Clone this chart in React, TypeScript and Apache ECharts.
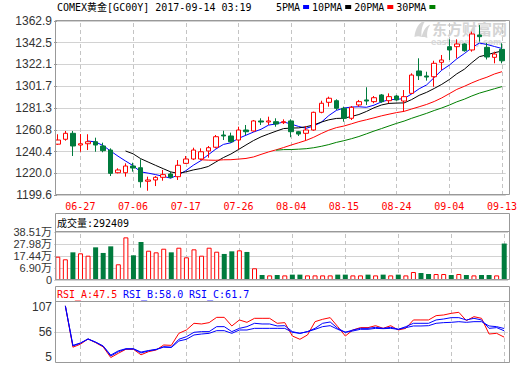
import React, { useEffect, useRef } from 'react';
import * as echarts from 'echarts';

const DATES = ['06-22','06-23','06-26','06-27','06-28','06-29','06-30','07-03','07-04','07-05','07-06','07-07','07-10','07-11','07-12','07-13','07-14','07-17','07-18','07-19','07-20','07-21','07-24','07-25','07-26','07-27','07-28','07-31','08-01','08-02','08-03','08-04','08-07','08-08','08-09','08-10','08-11','08-14','08-15','08-16','08-17','08-18','08-21','08-22','08-23','08-24','08-25','08-28','08-29','08-30','08-31','09-01','09-04','09-05','09-06','09-07','09-08','09-11','09-12','09-13'];
const LABEL_DATES = ['06-27','07-06','07-17','07-26','08-04','08-15','08-24','09-04','09-13'];

const OPEN = [1247.3,1251.9,1257.5,1246.5,1247.7,1249.6,1245.6,1241.8,1220.5,1220.5,1226.8,1225.2,1212.5,1213.7,1216.2,1219.3,1216.8,1229.3,1233.4,1233.4,1240.9,1244.4,1255.9,1255.0,1251.2,1260.6,1259.7,1269.1,1268.1,1268.4,1267.5,1269.1,1259.0,1257.5,1260.6,1277.2,1286.6,1288.1,1281.0,1271.6,1284.1,1288.8,1287.2,1293.5,1288.1,1292.5,1287.8,1295.0,1316.0,1311.3,1310.6,1324.1,1338.8,1338.8,1341.3,1335.7,1349.8,1338.2,1328.8,1336.3];
const CLOSE = [1251.2,1257.5,1245.6,1247.7,1249.6,1246.5,1241.2,1219.9,1223.1,1226.8,1224.9,1212.1,1213.7,1216.2,1218.7,1216.2,1227.5,1233.4,1241.8,1240.2,1244.0,1254.3,1255.0,1249.6,1260.6,1259.0,1269.1,1268.1,1269.1,1266.2,1268.4,1259.0,1256.8,1260.6,1277.2,1285.7,1290.4,1281.0,1271.6,1281.9,1287.2,1287.8,1290.9,1287.2,1291.9,1288.8,1291.9,1312.2,1311.6,1310.3,1323.2,1326.3,1335.7,1341.3,1335.0,1350.7,1348.2,1329.1,1331.9,1325.6];
const LOW = [1246.6,1250.6,1236.2,1240.2,1241.8,1240.2,1239.7,1217.4,1219.9,1216.8,1221.5,1206.5,1203.6,1208.0,1213.0,1215.3,1213.7,1228.7,1232.4,1232.4,1234.6,1243.4,1251.2,1248.7,1242.5,1255.9,1259.0,1265.3,1265.3,1263.7,1266.2,1253.8,1255.0,1251.2,1259.9,1276.3,1282.5,1279.4,1268.4,1270.0,1282.5,1284.1,1285.7,1286.2,1285.7,1288.1,1277.8,1294.4,1307.5,1306.9,1301.2,1316.9,1326.3,1327.9,1334.1,1334.1,1343.5,1326.8,1323.2,1323.2];
const HIGH = [1256.6,1259.7,1259.7,1256.8,1256.6,1253.4,1248.7,1243.4,1224.7,1229.3,1229.9,1233.1,1216.8,1217.4,1223.1,1221.5,1232.4,1236.2,1244.0,1243.4,1245.6,1255.9,1259.9,1258.1,1263.7,1265.3,1270.0,1271.6,1273.1,1271.6,1270.6,1270.6,1259.7,1264.4,1277.8,1288.1,1291.9,1289.4,1282.5,1283.1,1288.8,1300.7,1292.5,1294.4,1295.0,1293.5,1298.1,1313.8,1327.9,1315.3,1325.6,1331.0,1345.7,1345.7,1342.0,1352.9,1359.1,1342.3,1334.1,1342.0];

const VOLUME = [187000,166000,222000,214000,195000,262000,217000,270000,126000,342000,198000,305000,235000,222000,251000,222000,259000,182000,246000,195000,259000,227000,209000,230000,238000,225000,94000,40000,37000,40000,37000,43000,43000,37000,37000,37000,37000,43000,43000,37000,37000,43000,37000,43000,37000,43000,37000,64000,56000,48000,48000,48000,40000,48000,40000,37000,40000,40000,37000,292409];

const RSI_A = [null,99,31,36,44.5,38.5,31.5,14,21,27.5,27.5,18.5,23.7,26.4,34.6,34,53.8,59.3,70.3,69.2,71.4,80.1,80.1,65.9,75.8,71.9,78.5,78.5,78.5,70.3,71.4,49.4,44,51.1,73,76.9,79.6,64.8,49.4,59.3,63.2,63.2,66.4,62,66.4,59.3,62,75.8,75.8,75.8,82.9,84,86.7,88.4,74.7,81.2,78.5,52.7,53.8,47.5];
const RSI_B = [null,99,33,37.5,44.5,39,32.5,16.5,23.5,28,28,21.5,25,27,31.9,31,44,48.3,55.5,56.6,56.6,64.8,64.8,56.6,62,64.8,70.3,69.2,69.2,65.9,66.4,56.6,53.8,56.6,62,70.3,72.5,62,55.5,59.3,62,62,63.7,62,63.7,60.4,64.8,70.3,70.3,70.3,75.8,77.4,79.6,79.6,75.8,78.5,75.8,62,63.2,58];
const RSI_C = [null,99,34,38,44.5,39.5,33,18,25,28.5,28.5,23,25.5,27.5,31,30.5,41.2,44,51.1,52.7,53.8,58.2,58.2,53.8,59.3,59.3,62,62,62,62,62,55.5,53.8,56.6,60.4,64.8,66.4,60.4,55.5,57.7,60.4,60.4,62,61.5,62,60.4,63.2,65.9,65.9,66.4,70.3,71.4,71.9,73,71.9,73,73,65.9,64.8,61.7];

const MAIN_TICKS = [1199.6, 1220.0, 1240.4, 1260.8, 1281.3, 1301.7, 1322.1, 1342.5, 1362.9];
const VOL_TICK_LABELS = ['0', '6.90万', '17.44万', '27.98万', '38.51万'];
const VOL_TICK_POS = VOL_TICK_LABELS.map((_, i) => i);
const RSI_TICKS = [5, 56, 107];
const RSI_GRID_TICKS = [56];
const MA_PERIODS = [5, 10, 20, 30];
const MA_COLORS = ['#0000ff', '#000000', '#ff0000', '#008000'];
const HEADER_TITLE = 'COMEX黄金[GC00Y] 2017-09-14 03:19';
const VOL_TITLE = '成交量:292409';
const RSI_TITLES = ['RSI_A:47.5', 'RSI_B:58.0', 'RSI_C:61.7'];
const RSI_TITLE_COLORS = ['#ff0000', '#0000ff', '#0000ff'];

const RED = '#ff0000';
const GREEN = '#007b3d';
const MONO = "'DejaVu Sans Mono', 'Noto Sans CJK SC', monospace";
const SANS = "'Liberation Sans', 'Noto Sans CJK SC', sans-serif";

const LOGO_PATH = 'M2,20 C3,10 9,3 18,1 C13,6 11,12 12,20 C9,19 5,19 2,20 Z M12,20 C14,13 18,8 24,6 C20,11 19,15 20,21 C17,20 15,20 12,20 Z';

const GRID_LEFT = 54;
const GRID_WIDTH = 454;

function movingAverage(n: number) {
  return CLOSE.map((_, i) => {
    if (i < n - 1) return null;
    let s = 0;
    for (let k = i - n + 1; k <= i; k++) s += CLOSE[k];
    return +(s / n).toFixed(2);
  });
}

let logoRegistered = false;

export default function App() {
  const ref = useRef<HTMLDivElement>(null);
  useEffect(() => {
    document.body.style.margin = '0';
    if (!logoRegistered) {
      echarts.graphic.registerShape('emlogo', echarts.graphic.extendPath(LOGO_PATH, {}) as any);
      logoRegistered = true;
    }
    const chart = echarts.init(ref.current!, undefined, { renderer: 'svg' });
    const showDate = (_: number, v: string) => LABEL_DATES.indexOf(v) >= 0;
    const tickLen = [174, 48, 62];

    const xAxis = [0, 1, 2].map((g) => ({
      type: 'category',
      gridIndex: g,
      data: DATES,
      boundaryGap: true,
      axisLine: { show: false },
      axisTick: {
        show: true,
        interval: showDate,
        alignWithLabel: true,
        inside: true,
        length: tickLen[g],
        lineStyle: { color: '#c4c4c4', type: [4, 3], width: 1 },
      },
      axisLabel: {
        show: g === 0,
        interval: showDate,
        color: RED,
        fontFamily: MONO,
        fontSize: 10,
        margin: 6,
      },
      splitLine: { show: false },
    }));

    const yAxis = [
      {
        type: 'value', gridIndex: 0, position: 'left', min: 1199.6, max: 1362.9,
        axisLine: { show: false },
        axisTick: { show: true, inside: true, length: 3, customValues: MAIN_TICKS, lineStyle: { color: '#999' } },
        axisLabel: { customValues: MAIN_TICKS, formatter: (v: number) => v.toFixed(1), color: '#333', fontSize: 12, fontFamily: SANS, margin: 2 },
        splitLine: { show: true, lineStyle: { color: '#d2d2d2' } },
      },
      {
        type: 'value', gridIndex: 1, position: 'left', min: 0, max: 385100,
        axisLine: { show: false }, axisTick: { show: false },
        axisLabel: { show: false }, splitLine: { show: false },
      },
      {
        type: 'value', gridIndex: 2, position: 'left', min: 5, max: 107,
        axisLine: { show: false },
        axisTick: { show: false, customValues: RSI_GRID_TICKS },
        axisLabel: { customValues: RSI_TICKS, color: '#333', fontSize: 12, fontFamily: SANS, margin: 2, verticalAlignMinLabel: 'bottom', verticalAlignMaxLabel: 'top' },
        splitLine: { show: true, lineStyle: { color: '#d2d2d2' } },
      },
      {
        // tick-label axis of the volume panel (labels evenly spaced as in the reference)
        type: 'value', gridIndex: 1, position: 'left',
        min: -0.01, max: VOL_TICK_LABELS.length - 1,
        axisLine: { show: false },
        axisTick: { show: false, customValues: VOL_TICK_POS },
        axisLabel: {
          customValues: VOL_TICK_POS, showMinLabel: true, showMaxLabel: true, hideOverlap: false,
          formatter: (v: number) => (Math.round(v) === 0 ? '' : VOL_TICK_LABELS[Math.round(v)] || ''),
          color: '#333', fontSize: 11, fontFamily: SANS, margin: 2,
        },
        splitLine: { show: true, lineStyle: { color: '#d2d2d2' } },
      },
    ];

    const maSeries = MA_PERIODS.map((p, k) => ({
      type: 'line', name: p + 'PMA', xAxisIndex: 0, yAxisIndex: 0,
      data: movingAverage(p), showSymbol: false, symbol: 'none',
      lineStyle: { color: MA_COLORS[k], width: 1 }, z: 3,
    }));

    const rsiSeries = [RSI_A, RSI_B, RSI_C].map((d, k) => ({
      type: 'line', xAxisIndex: 2, yAxisIndex: 2, data: d, showSymbol: false, symbol: 'none',
      lineStyle: { color: RSI_TITLE_COLORS[k], width: 1 },
    }));

    const volData = VOLUME.map((v, i) => ({
      value: v,
      itemStyle: CLOSE[i] >= OPEN[i]
        ? { color: '#ffffff', borderColor: RED, borderWidth: 1 }
        : { color: GREEN, borderColor: GREEN, borderWidth: 0 },
    }));

    const legendItems: any[] = [];
    let lx = 276;
    MA_PERIODS.forEach((p, k) => {
      const txt = p + 'PMA';
      const w = txt.length * 6.02;
      legendItems.push({ type: 'text', x: lx, y: 7, style: { text: txt, fill: '#000', font: '10px ' + MONO, verticalAlign: 'middle', align: 'left' } });
      legendItems.push({ type: 'rect', shape: { x: lx + w + 3, y: 5, width: 6, height: 4 }, style: { fill: MA_COLORS[k] } });
      lx += w + 12;
    });

    const rsiTitleItems = RSI_TITLES.map((t, k) => ({
      type: 'text', x: 57 + k * 66, y: 294.5,
      style: { text: t, fill: RSI_TITLE_COLORS[k], font: '10px ' + MONO, verticalAlign: 'middle', align: 'left' },
    }));

    const frameStyle = { fill: 'none', stroke: '#999', lineWidth: 1 };

    chart.setOption({
      animation: false,
      grid: [
        { left: GRID_LEFT, top: 21, width: GRID_WIDTH, height: 174 },
        { left: GRID_LEFT, top: 232, width: GRID_WIDTH, height: 48 },
        { left: GRID_LEFT, top: 301, width: GRID_WIDTH, height: 62 },
      ],
      xAxis,
      yAxis,
      series: [
        {
          type: 'candlestick', xAxisIndex: 0, yAxisIndex: 0,
          data: OPEN.map((o, i) => [o, CLOSE[i], LOW[i], HIGH[i]]),
          barWidth: 5,
          itemStyle: { color: '#ffffff', color0: GREEN, borderColor: RED, borderColor0: GREEN, borderWidth: 1 },
          z: 4,
        },
        ...maSeries,
        {
          type: 'bar', xAxisIndex: 1, yAxisIndex: 1, data: volData, barWidth: 5,
          markLine: {
            silent: true,
            symbol: 'none',
            lineStyle: { color: 'transparent', width: 0 },
            label: { show: true, position: 'start', distance: 2, color: '#333', fontSize: 11, fontFamily: SANS, formatter: VOL_TICK_LABELS[0] },
            data: [{ yAxis: 0 }],
          },
        },
        ...rsiSeries,
      ],
      graphic: [
        { type: 'emlogo', x: 413, y: 19, z: 0, scaleX: 0.72, scaleY: 0.9, style: { fill: '#d6d6d6' } },
        { type: 'text', x: 432, y: 28, z: 0, style: { text: '东方财富网', fill: '#d4d4d4', font: 'bold 15px "Noto Sans CJK SC"', verticalAlign: 'middle' } },
        { type: 'text', x: 431, y: 42, z: 0, style: { text: 'eastmoney.com', fill: '#dadada', font: 'bold 8px "DejaVu Sans"', verticalAlign: 'middle' } },
        { type: 'text', x: 57, y: 7, style: { text: HEADER_TITLE, fill: '#000', font: '10px ' + MONO, verticalAlign: 'middle', align: 'left' } },
        ...legendItems,
        { type: 'rect', shape: { x: 55.5, y: 20.5, width: 454, height: 174 }, style: frameStyle, z: 10 },
        { type: 'rect', shape: { x: 55.5, y: 213.5, width: 454, height: 66 }, style: frameStyle, z: 10 },
        { type: 'line', shape: { x1: 55.5, y1: 231.5, x2: 509.5, y2: 231.5 }, style: { stroke: '#999', lineWidth: 1 }, z: 10 },
        { type: 'text', x: 57, y: 223, style: { text: VOL_TITLE, fill: '#000', font: '10px ' + MONO, verticalAlign: 'middle', align: 'left' } },
        { type: 'rect', shape: { x: 55.5, y: 286.5, width: 454, height: 76 }, style: frameStyle, z: 10 },
        { type: 'line', shape: { x1: 55.5, y1: 301.5, x2: 509.5, y2: 301.5 }, style: { stroke: '#999', lineWidth: 1 }, z: 10 },
        ...rsiTitleItems,
      ],
    });
    return () => chart.dispose();
  }, []);
  return <div ref={ref} style={{ width: 520, height: 365 }} />;
}
